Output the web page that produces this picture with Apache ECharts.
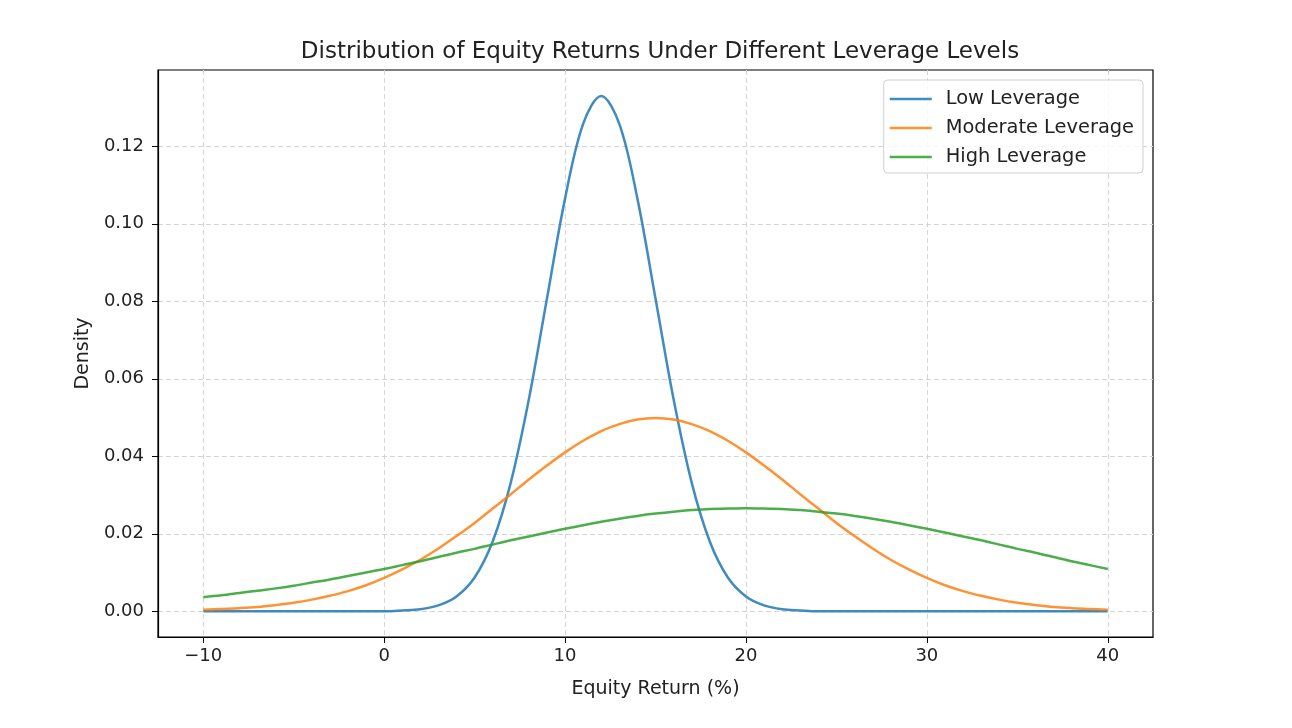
<html>
<head>
	<meta charset="utf-8">
	<script src="https://cdn.jsdelivr.net/npm/echarts@6/dist/echarts.min.js"></script>
	<style>
		body { margin: 0; background: #fff; }
	</style>
</head>
<body>
	<div id="main" style="width: 1292px;height:728px;"></div>
	<script type="text/javascript">
		// equity return (%) sample points
		var returns = [-10, -9, -8, -7, -6, -5, -4, -3, -2, -1,
			0, 1, 2, 3, 4, 5, 6, 7, 8, 9,
			10, 11, 12, 13, 14, 15, 16, 17, 18, 19,
			20, 21, 22, 23, 24, 25, 26, 27, 28, 29,
			30, 31, 32, 33, 34, 35, 36, 37, 38, 39, 40];

		// density
		var lowLev = [0, 0, 0, 0, 0, 0, 0, 0, 0, 0,
			0.0000, 0.0002, 0.0005, 0.0015, 0.0038, 0.0087, 0.0180, 0.0332, 0.0547, 0.0807,
			0.1065, 0.1258, 0.1330, 0.1258, 0.1065, 0.0807, 0.0547, 0.0332, 0.0180, 0.0087,
			0.0038, 0.0015, 0.0005, 0.0002, 0.0000, 0, 0, 0, 0, 0,
			0, 0, 0, 0, 0, 0, 0, 0, 0, 0, 0];
		var modLev = [0.0004, 0.0006, 0.0008, 0.0011, 0.0016, 0.0022, 0.0030, 0.0040, 0.0052, 0.0067,
			0.0086, 0.0108, 0.0133, 0.0162, 0.0194, 0.0228, 0.0265, 0.0302, 0.0340, 0.0376,
			0.0410, 0.0440, 0.0465, 0.0483, 0.0495, 0.0499, 0.0495, 0.0483, 0.0465, 0.0440,
			0.0410, 0.0376, 0.0340, 0.0302, 0.0265, 0.0228, 0.0194, 0.0162, 0.0133, 0.0108,
			0.0086, 0.0067, 0.0052, 0.0040, 0.0030, 0.0022, 0.0016, 0.0011, 0.0008, 0.0006, 0.0004];
		var highLev = [0.0036, 0.0041, 0.0047, 0.0053, 0.0059, 0.0066, 0.0074, 0.0082, 0.0091, 0.0100,
			0.0109, 0.0119, 0.0129, 0.0140, 0.0151, 0.0161, 0.0172, 0.0183, 0.0193, 0.0203,
			0.0213, 0.0222, 0.0231, 0.0239, 0.0246, 0.0252, 0.0257, 0.0261, 0.0264, 0.0265,
			0.0266, 0.0265, 0.0264, 0.0261, 0.0257, 0.0252, 0.0246, 0.0239, 0.0231, 0.0222,
			0.0213, 0.0203, 0.0193, 0.0183, 0.0172, 0.0161, 0.0151, 0.0140, 0.0129, 0.0119, 0.0109];

		var xTicks = [-10, 0, 10, 20, 30, 40];
		var yTicks = [0, 0.02, 0.04, 0.06, 0.08, 0.10, 0.12];

		function pairs(ys) {
			return returns.map(function (x, i) { return [x, ys[i]]; });
		}

		var font = 'DejaVu Sans';
		var gridLine = { show: true, lineStyle: { color: '#d4d4d4', type: [5, 3], width: 1 } };

		var myChart = echarts.init(document.getElementById('main'));
		var option = {
			backgroundColor: '#fff',
			animation: false,
			title: {
				text: 'Distribution of Equity Returns Under Different Leverage Levels',
				left: 655,
				textAlign: 'center',
				top: 36,
				textStyle: { fontFamily: font, fontSize: 23, fontWeight: 'normal', color: '#222' }
			},
			legend: {
				orient: 'vertical',
				right: 149,
				top: 80,
				padding: [9, 9, 6, 6],
				icon: 'rect',
				itemWidth: 42,
				itemHeight: 2.5,
				itemGap: 9,
				borderColor: '#d0d0d0',
				borderWidth: 1,
				borderRadius: 4,
				backgroundColor: 'rgba(255,255,255,0.8)',
				textStyle: { fontFamily: font, fontSize: 19.4, lineHeight: 20, color: '#222', padding: [0, 0, 0, 9] },
				data: ['Low Leverage', 'Moderate Leverage', 'High Leverage']
			},
			grid: {
				left: 158, right: 139, top: 70, bottom: 91,
				show: true, borderColor: '#000', borderWidth: 1.2
			},
			xAxis: {
				type: 'value',
				min: -12.5,
				max: 42.5,
				name: 'Equity Return (%)',
				nameLocation: 'middle',
				nameGap: 43,
				nameTextStyle: { fontFamily: font, fontSize: 19, color: '#222' },
				axisLine: { show: true, onZero: false, lineStyle: { color: '#000', width: 1.2 } },
				axisTick: { show: true, length: 6, customValues: xTicks, lineStyle: { color: '#000' } },
				axisLabel: {
					customValues: xTicks,
					margin: 10,
					fontFamily: font, fontSize: 18, color: '#222',
					formatter: function (v) { return String(v).replace('-', '\u2212'); }
				},
				splitLine: gridLine
			},
			yAxis: {
				type: 'value',
				min: -0.00665,
				max: 0.1397,
				name: 'Density',
				nameLocation: 'middle',
				nameGap: 61,
				nameTextStyle: { fontFamily: font, fontSize: 19, color: '#222' },
				axisLine: { show: true, onZero: false, lineStyle: { color: '#000', width: 1.2 } },
				axisTick: { show: true, length: 6, customValues: yTicks, lineStyle: { color: '#000' } },
				axisLabel: {
					customValues: yTicks,
					margin: 14,
					fontFamily: font, fontSize: 18, color: '#222',
					formatter: function (v) { return v.toFixed(2); }
				},
				splitLine: gridLine
			},
			series: [
				{
					name: 'Low Leverage', type: 'line', data: pairs(lowLev),
					smooth: 0.35, symbol: 'none', color: 'rgba(31,119,180,0.85)',
					lineStyle: { width: 2.5 }
				},
				{
					name: 'Moderate Leverage', type: 'line', data: pairs(modLev),
					smooth: 0.35, symbol: 'none', color: 'rgba(255,127,14,0.85)',
					lineStyle: { width: 2.5 }
				},
				{
					name: 'High Leverage', type: 'line', data: pairs(highLev),
					smooth: 0.35, symbol: 'none', color: 'rgba(44,160,44,0.85)',
					lineStyle: { width: 2.5 }
				}
			]
		};
		myChart.setOption(option);
	</script>
</body>
</html>
